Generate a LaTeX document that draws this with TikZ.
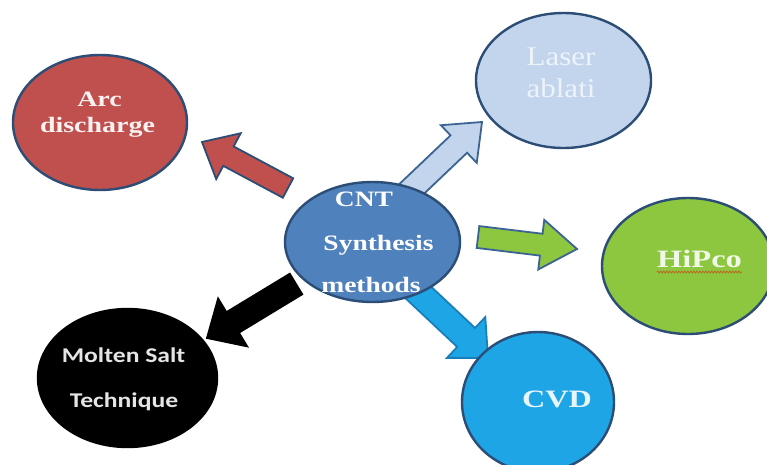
\documentclass[tikz,border=0pt]{standalone}
\usepackage{graphicx}
\usepackage{fontspec}
\setmainfont{Liberation Serif}
\newfontfamily\calibfont{Carlito}
\usetikzlibrary{shapes.geometric,calc,decorations.pathmorphing}
\definecolor{centerblue}{HTML}{4F81BD}
\definecolor{edgeblue}{HTML}{2C4D75}
\definecolor{arcred}{HTML}{C0504D}
\definecolor{laserblue}{HTML}{C3D5EC}
\definecolor{lasertext}{HTML}{EEF3FA}
\definecolor{hipgreen}{HTML}{8DC63F}
\definecolor{cvdblue}{HTML}{1DA5E6}
\definecolor{arrowedge}{HTML}{3B6494}
\definecolor{cvdedge}{HTML}{1A7FB8}
\definecolor{squiggle}{HTML}{C0641E}
\newcommand\sxb[2]{\scalebox{#1}[1]{#2}}
\newcommand\blockarrow[6]{%
  \path ($(#2)!#5!(#1)$) coordinate (hb);
  \draw[#6] ($(#1)!#3!90:(#2)$) -- ($(hb)!#3!90:(#2)$) -- ($(hb)!#4!90:(#2)$) -- (#2)
    -- ($(hb)!#4!-90:(#2)$) -- ($(hb)!#3!-90:(#2)$) -- ($(#1)!#3!-90:(#2)$) -- cycle;}
\begin{document}
\begin{tikzpicture}[x=1pt,y=-1pt,
  blob/.style={ellipse,draw=edgeblue,line width=2.4pt,inner sep=0pt},
  lbl/.style={anchor=base,inner sep=0pt,text=white},
  serifbig/.style={font=\fontsize{22}{26}\selectfont\bfseries},
  barrow/.style={line width=1.8pt,line join=miter}]
\useasboundingbox (0,0) rectangle (767,464);
\clip (0,0) rectangle (767,464);
\fill[white] (0,0) rectangle (767,464);

% connector end points
\coordinate (redtail) at (288,188);   \coordinate (redtip) at (202,142);
\coordinate (lastail) at (400,200);   \coordinate (lastip) at (482,122);
\coordinate (grntail) at (478,237);   \coordinate (grntip) at (577,249);
\coordinate (cvdtail) at (405,280);   \coordinate (cvdtip) at (488,358);
\coordinate (blktail) at (296,284);   \coordinate (blktip) at (207,338);

% block arrows
\blockarrow{redtail}{redtip}{11pt}{26pt}{30pt}{barrow,fill=arcred,draw=edgeblue}
\blockarrow{lastail}{lastip}{12pt}{26pt}{32pt}{barrow,fill=laserblue,draw=arrowedge}
\blockarrow{grntail}{grntip}{11pt}{25pt}{36pt}{barrow,fill=hipgreen,draw=arrowedge}
\blockarrow{cvdtail}{cvdtip}{13pt}{28pt}{30pt}{barrow,fill=cvdblue,draw=cvdedge}
\blockarrow{blktail}{blktip}{12pt}{28pt}{30pt}{barrow,fill=black,draw=black}

% ellipses
\node[blob,fill=arcred,minimum width=174pt,minimum height=135pt] (arc) at (100,122.5) {};
\node[blob,fill=laserblue,minimum width=175pt,minimum height=135pt] (laser) at (563.5,80.5) {};
\node[blob,fill=hipgreen,minimum width=172pt,minimum height=136pt] (hipco) at (688,266) {};
\node[blob,fill=black,draw=black,minimum width=179pt,minimum height=138pt] (molten) at (127.5,378) {};
\node[blob,fill=cvdblue,minimum width=152pt,minimum height=140pt] (cvd) at (538,402) {};
\node[blob,fill=centerblue,draw=edgeblue,minimum width=175pt,minimum height=120pt] (cnt) at (372.5,242) {};

% texts
\node[lbl,serifbig] (cnt1) at (364,206) {\sxb{1.25}{CNT}};
\node[lbl,serifbig] (cnt2) at (378.5,250) {\sxb{1.25}{Synthesis}};
\node[lbl,serifbig] (cnt3) at (371,292) {\sxb{1.25}{methods}};

\node[lbl,serifbig,text={white!92!arcred}] (arc1) at (99.5,106) {\sxb{1.27}{Arc}};
\node[lbl,serifbig,text={white!92!arcred}] (arc2) at (97.5,132) {\sxb{1.27}{discharge}};

\node[lbl,text=lasertext,font=\fontsize{27}{30}\selectfont] (las1) at (561,65) {\sxb{1.15}{Laser}};
\node[lbl,text=lasertext,font=\fontsize{27}{30}\selectfont] (las2) at (561,97) {\sxb{1.15}{ablati}};

\node[lbl,text={white!88!hipgreen},font=\fontsize{25}{28}\selectfont\bfseries] (hip1) at (699.5,267) {\sxb{1.3}{HiPco}};
\draw[squiggle,line width=0.8pt,decorate,decoration={snake,amplitude=0.9pt,segment length=3pt}]
  ([yshift=-5pt]hip1.base west) -- ([yshift=-5pt]hip1.base east);

\node[lbl,text={white!90!cvdblue},font=\fontsize{25}{28}\selectfont\bfseries] (cvd1) at (557,407) {\sxb{1.29}{CVD}};

\node[lbl,text={white!90!black},font=\calibfont\fontsize{21}{24}\selectfont\bfseries] (mol1) at (123.5,362) {\sxb{1.22}{Molten Salt}};
\node[lbl,text={white!90!black},font=\calibfont\fontsize{21}{24}\selectfont\bfseries] (mol2) at (124,407) {\sxb{1.22}{Technique}};
\end{tikzpicture}
\end{document}
